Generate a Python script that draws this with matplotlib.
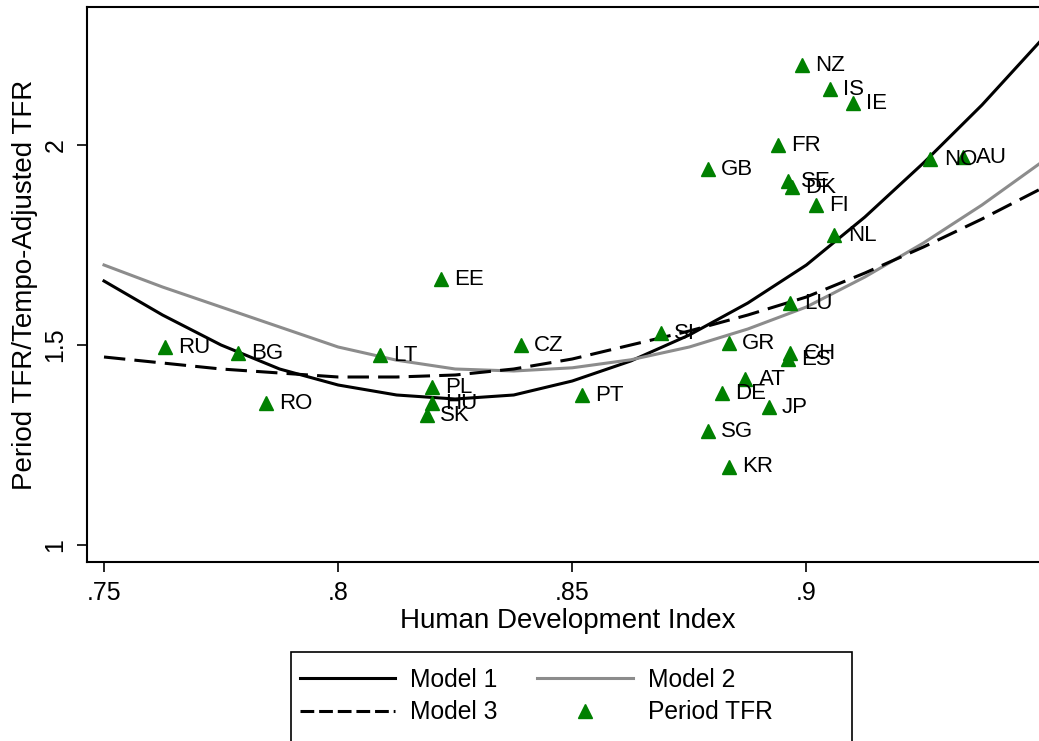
import matplotlib.pyplot as plt
from matplotlib.lines import Line2D
from matplotlib.patches import Rectangle

plt.rcParams['font.family'] = ['Liberation Sans', 'DejaVu Sans']

# countries: HDI vs period TFR
countries = ['NZ', 'IS', 'IE', 'FR', 'GB', 'SE', 'DK', 'FI', 'NL', 'NO', 'AU',
             'LU', 'SI', 'GR', 'CH', 'ES', 'AT', 'DE', 'JP', 'SG', 'KR', 'PT',
             'EE', 'CZ', 'LT', 'PL', 'HU', 'SK', 'RU', 'BG', 'RO']
hdi = [0.899, 0.905, 0.910, 0.894, 0.879, 0.896, 0.897, 0.902, 0.906, 0.9265, 0.9335,
       0.8966, 0.869, 0.8835, 0.8966, 0.896, 0.887, 0.882, 0.892, 0.879, 0.8835, 0.852,
       0.822, 0.839, 0.809, 0.820, 0.820, 0.819, 0.763, 0.7786, 0.7846]
tfr = [2.20, 2.14, 2.105, 2.00, 1.94, 1.91, 1.895, 1.85, 1.775, 1.965, 1.97,
       1.605, 1.53, 1.505, 1.48, 1.465, 1.415, 1.38, 1.345, 1.285, 1.195, 1.375,
       1.665, 1.50, 1.475, 1.395, 1.355, 1.325, 1.495, 1.48, 1.355]

# fitted curves
hdi_grid = [0.75, 0.7625, 0.775, 0.7875, 0.80, 0.8125, 0.825, 0.8375, 0.85,
            0.8625, 0.875, 0.8875, 0.90, 0.9125, 0.925, 0.9375, 0.95]
model1 = [1.66, 1.575, 1.50, 1.44, 1.40, 1.375, 1.365, 1.375, 1.41,
          1.46, 1.525, 1.605, 1.70, 1.82, 1.955, 2.10, 2.26]
model2 = [1.70, 1.645, 1.595, 1.545, 1.495, 1.462, 1.44, 1.435, 1.443,
          1.463, 1.495, 1.54, 1.595, 1.67, 1.755, 1.85, 1.955]
model3 = [1.47, 1.455, 1.44, 1.43, 1.42, 1.42, 1.425, 1.44, 1.465,
          1.50, 1.535, 1.575, 1.62, 1.68, 1.745, 1.815, 1.89]

W, H = 1039, 741
fig = plt.figure(figsize=(W / 100, H / 100), dpi=100)
ax = fig.add_axes([87 / W, 1 - 562 / H, 1 - 87 / W + 0.01, (562 - 7) / H])

dash = (0, (7, 3))
ax.plot(hdi_grid, model1, color='black', lw=2.2)
ax.plot(hdi_grid, model2, color='#8c8c8c', lw=2.2)
ax.plot(hdi_grid, model3, color='black', lw=2.2, linestyle=dash)
ax.plot(hdi, tfr, '^', color='#008000', markersize=10, linestyle='none')

for c, x, y in zip(countries, hdi, tfr):
    ax.annotate(c, (x, y), xytext=(9.5, 0), textcoords='offset points',
                ha='left', va='center', fontsize=16)

ax.set_xlim(0.74637, 0.9519)
ax.set_ylim(0.9575, 2.345)
ax.set_xticks([0.75, 0.8, 0.85, 0.9])
ax.set_xticklabels(['.75', '.8', '.85', '.9'])
ax.set_yticks([1, 1.5, 2])
ax.set_yticklabels(['1', '1.5', '2'], rotation=90, va='center')
ax.tick_params(labelsize=18, length=7, width=1.2, pad=7)
for s in ax.spines.values():
    s.set_linewidth(1.5)
ax.spines['right'].set_visible(False)

ax.set_xlabel('Human Development Index', fontsize=20, labelpad=2)
ax.set_ylabel('Period TFR/Tempo-Adjusted TFR', fontsize=20, labelpad=4)

handles = [Line2D([], [], color='black', lw=2.2),
           Line2D([], [], color='black', lw=2.2, linestyle=(0, (4.5, 1.6))),
           Line2D([], [], color='#8c8c8c', lw=2.2),
           Line2D([], [], marker='^', color='#008000', markersize=10, linestyle='none')]
labels = ['Model 1', 'Model 3', 'Model 2', 'Period TFR']
fig.legend(handles, labels, ncol=2, loc='upper left',
           bbox_to_anchor=(291 / W, 1 - 659 / H), fontsize=17.7,
           frameon=False, handlelength=3.9, handletextpad=0.6,
           columnspacing=1.6, borderpad=0.35, borderaxespad=0,
           labelspacing=0.35)
fig.patches.append(Rectangle((291 / W, -0.05), (852 - 291) / W, 0.05 + (741 - 652) / H,
                             transform=fig.transFigure, fill=False,
                             edgecolor='black', lw=1.2))

fig.savefig('out.png', dpi=100)
